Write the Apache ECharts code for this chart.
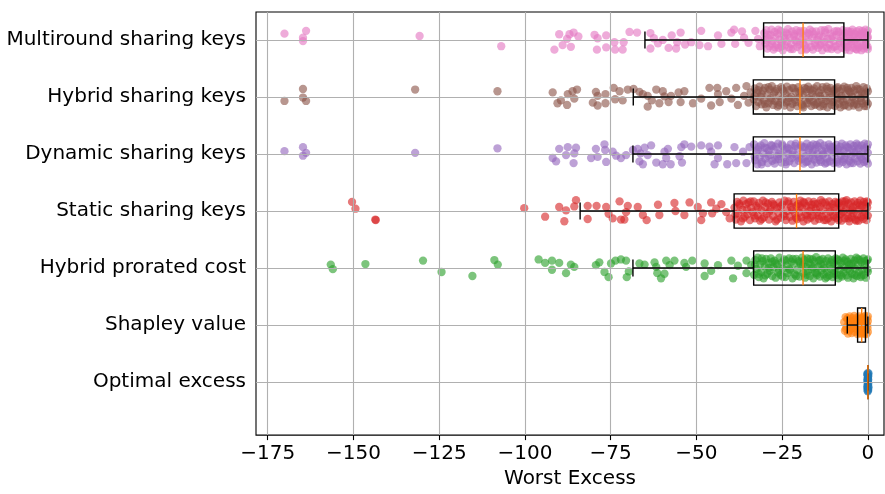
<!DOCTYPE html>
<html>
<head>
<meta charset="utf-8">
<script src="https://cdn.jsdelivr.net/npm/echarts@6/dist/echarts.min.js"></script>
<style>
  html, body { margin: 0; padding: 0; background: #ffffff; }
  #chart { width: 885px; height: 494px; }
</style>
</head>
<body>
<div id="chart"></div>
<script>
// Methods, bottom (position 1) to top (position 7)
const categories = [
  'Optimal excess',
  'Shapley value',
  'Hybrid prorated cost',
  'Static sharing keys',
  'Dynamic sharing keys',
  'Hybrid sharing keys',
  'Multiround sharing keys'
];
const colors = ['#1f77b4', '#ff7f0e', '#2ca02c', '#d62728', '#9467bd', '#8c564b', '#e377c2'];
const xTicks = [-175, -150, -125, -100, -75, -50, -25, 0];

// Box-plot summaries per method (same order as categories)
const whiskerLow = [0, -6.0, -68.5, -83.9, -68.5, -68.4, -65.0];
const quartile1  = [0, -3.0, -33.3, -39.0, -33.4, -33.4, -30.4];
const medians    = [0, -1.8, -18.9, -20.8, -19.8, -19.8, -18.9];
const quartile3  = [0, -0.7, -9.5, -8.5, -9.7, -9.7, -7.0];
const whiskerHigh = [0, 0, 0, 0, 0, 0, 0];

// Individual results: [worst excess, vertical jitter within the row]
const pointsOptimal = [
  [0,0.16],[0,0.12],[0,0.08],[0,0.04],[0,0.0],[0,-0.04],[0,-0.08],[0,-0.12],[0,-0.16],
  [-0.2,0.14],[-0.2,0.02],[-0.2,-0.1],[0.1,0.1],[0.1,-0.02],[0.1,-0.14],[-0.1,0.06],[-0.1,-0.06],
  [0.2,0.15],[0.2,-0.09],[-0.1,0.13],[-0.1,-0.15],[0.1,0.04]
];
const pointsShapley = [
  [-6.9,0.05],[-6.7,-0.1],[-6.5,0.14],[-6.2,-0.03],[-6.0,0.1],[-5.8,-0.15],[-5.6,0.02],[-5.3,0.15],
  [-5.1,-0.08],[-4.9,0.07],[-4.7,-0.14],[-4.5,0.12],[-4.2,-0.02],[-4.0,0.16],[-3.8,-0.12],[-3.6,0.04],
  [-3.4,-0.06],[-3.2,0.13],[-3.0,-0.16],[-2.9,0.08],[-2.7,-0.04],[-2.5,0.15],[-2.4,-0.11],[-2.2,0.01],
  [-2.0,0.11],[-1.9,-0.15],[-1.7,0.06],[-1.6,-0.07],[-1.4,0.14],[-1.3,-0.02],[-1.1,-0.13],[-1.0,0.09],
  [-0.8,0.16],[-0.7,-0.09],[-0.5,0.03],[-0.4,-0.16],[-0.3,0.12],[-0.1,-0.05],[0,0.07],[0,-0.12],
  [0,0.15],[-0.2,0.0],[-0.6,0.1],[-0.9,-0.16],[-1.5,0.02],[-2.1,-0.09],[-2.6,0.1],[-3.3,0.0],
  [-4.4,0.05],[-5.5,-0.1],
  [-6.4,-0.07],[-5.9,0.12],[-5.0,0.0],[-4.6,-0.05],[-3.9,0.08],[-3.1,0.04],[-2.3,-0.14],[-1.8,0.12],
  [-1.2,0.05],[-0.6,-0.13]
];
const pointsHybridProrated = [
  [-156.6,0.06],[-156.0,-0.02],[-146.5,0.07],[-129.7,0.13],[-124.3,-0.07],[-115.3,-0.14],[-108.9,0.14],[-107.9,0.06],
  [-96.0,0.15],[-94.1,0.09],[-92.1,0.13],[-92.1,-0.03],[-90.0,0.09],[-88.0,-0.09],[-86.6,0.06],[-85.6,0.02],
  [-79.3,0.05],[-78.3,0.10],[-76.8,-0.07],[-75.6,-0.16],[-74.9,0.08],[-73.6,0.13],[-72.0,0.15],[-70.5,0.13],
  [-69.7,-0.06],[-70.3,-0.16],[-66.6,0.08],[-65.1,0.06],[-62.2,0.10],[-61.7,0.02],[-61.4,-0.09],[-60.3,-0.18],
  [-58.8,0.13],[-57.8,0.05],[-56.4,0.13],[-59.3,-0.10],[-53.5,0.09],[-53.0,0.02],[-51.2,0.13],[-47.6,0.08],
  [-47.6,-0.14],[-45.7,-0.05],[-43.7,0.05],[-39.8,0.13],[-39.3,-0.18],[-37.9,0.04],[-35.4,0.13],[-35.4,-0.09],
  [-34.0,0.05],
  [-33.2,-0.12],[-32.8,0.14],[-32.5,-0.02],[-32.1,0.18],[-31.8,-0.16],[-31.4,0.07],[-31.1,-0.07],[-30.7,0.12],
  [-30.4,-0.18],[-30.0,0.03],[-29.7,0.16],[-29.3,-0.1],[-29.0,0.09],[-28.6,-0.05],[-28.3,0.17],[-27.9,-0.14],
  [-27.6,0.01],[-27.2,0.13],[-26.9,-0.17],[-26.5,0.06],[-26.2,-0.08],[-25.8,0.18],[-25.5,-0.12],[-25.1,0.1],
  [-24.8,-0.01],[-24.4,0.15],[-24.1,-0.16],[-23.7,0.04],[-23.4,-0.09],[-23.0,0.17],[-22.7,-0.04],[-22.3,0.11],
  [-22.0,-0.18],[-21.6,0.08],[-21.3,-0.11],[-20.9,0.16],[-20.6,-0.03],[-20.2,0.12],[-19.9,-0.15],[-19.5,0.05],
  [-19.2,0.18],
  [-18.8,-0.09],[-18.5,0.14],[-18.3,-0.17],[-18.0,0.02],[-17.7,0.17],[-17.5,-0.06],[-17.2,0.1],[-16.9,-0.14],
  [-16.7,0.06],[-16.4,-0.02],[-16.1,0.15],[-15.9,-0.18],[-15.6,0.11],[-15.3,-0.08],[-15.1,0.19],[-14.8,-0.12],
  [-14.5,0.03],[-14.3,0.13],[-14.0,-0.15],[-13.7,0.07],[-13.5,-0.04],[-13.2,0.16],[-12.9,-0.11],[-12.7,0.0],
  [-12.4,-0.18],[-12.1,0.12],[-11.9,-0.07],[-11.6,0.17],[-11.3,-0.13],[-11.1,0.05],[-10.8,-0.02],[-10.5,0.14],
  [-10.3,-0.16],[-10.0,0.09],[-9.7,-0.05],
  [-9.4,0.17],[-9.1,-0.12],[-8.9,0.04],[-8.6,-0.18],[-8.4,0.13],[-8.1,-0.03],[-7.8,0.09],[-7.6,-0.15],
  [-7.3,0.18],[-7.1,-0.08],[-6.8,0.02],[-6.5,0.15],[-6.3,-0.13],[-6.0,0.11],[-5.8,-0.17],[-5.5,0.06],
  [-5.2,-0.05],[-5.0,0.16],[-4.7,-0.1],[-4.5,0.08],[-4.2,-0.18],[-3.9,0.13],[-3.7,-0.01],[-3.4,0.18],
  [-3.2,-0.14],[-2.9,0.05],[-2.6,-0.07],[-2.4,0.14],[-2.1,-0.16],[-1.9,0.1],[-1.6,-0.03],[-1.3,0.17],
  [-1.1,-0.12],[-0.8,0.07],[-0.6,-0.17],[-0.3,0.13],[0,-0.06],[0,0.15],
  [-32.9,0.06],[-31.9,-0.1],[-30.9,0.17],[-29.9,-0.13],[-28.9,0.0],[-27.9,0.11],[-26.9,0.08],[-25.9,-0.04],
  [-24.9,-0.15],[-23.9,0.13],[-22.9,-0.02],[-21.9,0.16],[-20.9,-0.14],[-19.9,0.1],[-18.9,0.05],[-17.9,-0.12],
  [-16.9,0.16],[-15.9,0.01],[-14.9,-0.09],[-13.9,0.14],[-12.9,0.06],[-11.9,-0.16],[-10.9,0.1],[-9.9,-0.1],
  [-8.9,0.15],[-7.9,-0.12],[-6.9,0.12],[-5.9,-0.02],[-4.9,0.07],[-3.9,-0.12],[-2.9,0.16],[-1.9,-0.13],
  [-0.9,0.12],[-0.2,-0.02]
];
const pointsStatic = [
  [-150.4,0.16],[-149.4,0.04],[-143.5,-0.16],[-143.6,-0.15],
  [-100.2,0.05],[-94.1,-0.10],[-90.0,0.07],[-88.5,-0.18],[-88.0,0.01],[-85.1,0.19],[-85.6,0.08],[-81.7,0.09],
  [-81.7,-0.14],[-79.1,0.09],[-76.3,0.07],[-75.6,-0.05],[-74.4,-0.13],[-72.4,0.17],[-72.0,-0.15],[-70.0,0.09],
  [-70.5,-0.02],[-71.0,-0.15],[-67.1,0.07],[-65.6,-0.07],[-64.5,-0.16],[-61.2,0.11],[-60.8,-0.07],[-56.4,0.14],
  [-56.1,0.0],[-53.5,-0.07],[-52.0,0.15],[-49.6,0.07],[-48.6,-0.16],[-48.1,-0.04],[-45.7,0.15],[-45.4,-0.04],
  [-44.2,0.04],[-42.7,0.12],[-41.3,-0.02],[-40.3,-0.13],
  [-38.9,0.06],[-38.5,-0.15],[-38.1,0.16],[-37.8,-0.04],[-37.4,0.1],[-37.0,-0.18],[-36.6,0.02],[-36.3,0.18],
  [-35.9,-0.1],[-35.5,0.12],[-35.1,-0.06],[-34.8,0.15],[-34.4,-0.16],[-34.0,0.05],[-33.6,-0.02],[-33.3,0.17],
  [-32.9,-0.13],[-32.5,0.09],[-32.1,-0.08],[-31.8,0.14],[-31.4,-0.17],[-31.0,0.01],[-30.6,0.18],[-30.3,-0.11],
  [-29.9,0.07],[-29.5,-0.05],[-29.1,0.13],[-28.8,-0.15],[-28.4,0.03],[-28.0,0.16],[-27.6,-0.09],[-27.3,0.1],
  [-26.9,-0.18],[-26.5,0.05],[-26.1,-0.03],[-25.8,0.15],[-25.4,-0.12],[-25.0,0.11],[-24.6,-0.06],[-24.3,0.18],
  [-23.9,-0.16],[-23.5,0.0],[-23.1,0.13],[-22.8,-0.1],[-22.4,0.07],[-22.0,-0.17],[-21.6,0.16],[-21.3,-0.04],
  [-20.9,0.09],
  [-20.6,-0.14],[-20.3,0.12],[-20.0,-0.03],[-19.7,0.18],[-19.4,-0.11],[-19.1,0.05],[-18.8,-0.18],[-18.5,0.14],
  [-18.2,-0.06],[-17.9,0.09],[-17.6,-0.15],[-17.3,0.17],[-17.0,0.0],[-16.7,-0.12],[-16.4,0.11],[-16.1,-0.08],
  [-15.8,0.16],[-15.5,-0.17],[-15.2,0.04],[-14.9,-0.03],[-14.6,0.13],[-14.3,-0.14],[-14.0,0.07],[-13.7,0.19],
  [-13.4,-0.1],[-13.1,0.02],[-12.8,-0.16],[-12.5,0.15],[-12.2,-0.05],[-11.9,0.1],[-11.6,-0.13],[-11.3,0.17],
  [-11.0,-0.01],[-10.7,-0.18],[-10.4,0.12],[-10.1,-0.07],[-9.8,0.06],[-9.5,0.16],[-9.2,-0.12],[-8.9,0.03],
  [-8.6,-0.16],
  [-8.4,0.14],[-8.2,-0.06],[-7.9,0.08],[-7.7,-0.17],[-7.4,0.17],[-7.2,-0.02],[-6.9,0.11],[-6.7,-0.13],
  [-6.4,0.04],[-6.2,0.19],[-5.9,-0.09],[-5.7,0.13],[-5.4,-0.18],[-5.2,0.01],[-4.9,0.15],[-4.7,-0.11],
  [-4.4,0.07],[-4.2,-0.04],[-3.9,0.17],[-3.7,-0.15],[-3.4,0.1],[-3.2,-0.07],[-2.9,0.14],[-2.7,-0.17],
  [-2.4,0.03],[-2.2,0.18],[-1.9,-0.1],[-1.7,0.09],[-1.4,-0.14],[-1.2,0.16],[-0.9,-0.02],[-0.7,0.12],
  [-0.4,-0.16],[-0.2,0.06],[0,-0.08],[0,0.15],
  [-38.6,-0.06],[-37.5,0.13],[-36.4,-0.13],[-35.3,0.03],[-34.2,0.17],[-33.1,-0.08],[-32.0,0.06],[-30.9,-0.14],
  [-29.8,0.15],[-28.7,-0.01],[-27.6,0.12],[-26.5,-0.15],[-25.4,0.08],[-24.3,-0.09],[-23.2,0.17],[-22.1,0.02],
  [-21.0,-0.12],[-19.9,0.08],[-18.8,0.16],[-17.7,-0.07],[-16.6,0.05],[-15.5,0.12],[-14.4,-0.08],[-13.3,0.15],
  [-12.2,-0.16],[-11.1,0.07],[-10.0,-0.1],[-8.9,0.14],[-7.8,-0.04],[-6.7,0.17],[-5.6,-0.13],[-4.5,0.02],
  [-3.4,-0.17],[-2.3,0.1],[-1.2,-0.07],[-0.3,0.17]
];
const pointsDynamic = [
  [-170.1,0.05],[-164.7,0.12],[-163.8,0.02],[-164.7,-0.03],[-132.0,0.02],[-108.0,0.10],
  [-91.9,-0.07],[-90.0,0.09],[-87.5,0.12],[-85.1,0.11],[-88.0,-0.02],[-85.6,0.01],[-90.9,-0.13],[-85.8,-0.16],
  [-79.3,0.09],[-76.8,0.17],[-76.6,0.07],[-80.7,-0.07],[-78.8,-0.05],[-76.3,-0.14],[-74.4,0.04],[-73.4,-0.03],
  [-72.0,-0.07],[-70.5,-0.02],[-68.5,0.07],[-67.1,0.09],[-65.1,0.11],[-63.2,0.15],[-66.3,0.01],[-64.2,-0.02],
  [-66.6,-0.13],[-65.6,-0.18],[-61.7,-0.15],[-59.3,0.04],[-58.3,0.09],[-58.8,-0.07],[-59.8,-0.18],[-57.5,-0.18],
  [-54.4,0.12],[-53.5,0.17],[-51.5,0.13],[-48.6,0.15],[-54.9,-0.04],[-54.2,-0.15],[-46.2,0.13],[-43.7,0.15],
  [-45.7,0.04],[-43.7,-0.07],[-44.7,-0.18],[-41.0,-0.18],[-38.9,0.12],[-38.4,-0.16],[-36.4,0.04],[-35.4,-0.16],
  [-34.5,0.12],
  [-33.2,0.17],[-32.9,-0.11],[-32.5,0.04],[-32.2,-0.18],[-31.9,0.12],[-31.5,-0.05],[-31.2,0.15],[-30.9,-0.14],
  [-30.5,0.01],[-30.2,0.19],[-29.9,-0.08],[-29.5,0.1],[-29.2,-0.16],[-28.9,0.06],[-28.5,-0.02],[-28.2,0.16],
  [-27.9,-0.12],[-27.5,0.09],[-27.2,-0.17],[-26.9,0.13],[-26.5,-0.04],[-26.2,0.18],[-25.9,-0.09],[-25.5,0.03],
  [-25.2,-0.15],[-24.9,0.14],[-24.5,-0.06],[-24.2,0.08],[-23.9,-0.18],[-23.5,0.11],[-23.2,0.0],[-22.9,-0.13],
  [-22.5,0.17],[-22.2,-0.07],[-21.9,0.05],[-21.5,-0.16],[-21.2,0.14],[-20.9,-0.03],[-20.5,0.1],[-20.2,-0.12],
  [-19.5,0.15],[-19.2,-0.09],[-18.9,0.02],[-18.7,-0.17],[-18.4,0.12],[-18.1,-0.04],[-17.8,0.18],[-17.5,-0.13],
  [-17.3,0.07],[-17.0,-0.07],[-16.7,0.14],[-16.4,-0.18],[-16.1,0.03],[-15.9,0.17],[-15.6,-0.1],[-15.3,0.09],
  [-15.0,-0.15],[-14.7,0.0],[-14.5,0.13],[-14.2,-0.06],[-13.9,0.19],[-13.6,-0.14],[-13.3,0.06],[-13.1,-0.02],
  [-12.8,0.15],[-12.5,-0.17],[-12.2,0.1],[-11.9,-0.08],[-11.7,0.04],[-11.4,0.17],[-11.1,-0.13],[-10.8,0.08],
  [-10.5,-0.05],[-10.3,0.12],[-10.0,-0.16],
  [-9.5,0.03],[-9.2,0.16],[-8.9,-0.1],[-8.7,0.09],[-8.4,-0.17],[-8.1,0.13],[-7.9,-0.03],[-7.6,0.18],
  [-7.3,-0.14],[-7.0,0.06],[-6.8,-0.07],[-6.5,0.15],[-6.2,-0.18],[-5.9,0.01],[-5.7,0.11],[-5.4,-0.12],
  [-5.1,0.17],[-4.9,-0.04],[-4.6,0.08],[-4.3,-0.16],[-4.1,0.14],[-3.8,-0.08],[-3.5,0.04],[-3.3,0.18],
  [-3.0,-0.13],[-2.7,0.1],[-2.5,-0.02],[-2.2,-0.17],[-1.9,0.15],[-1.7,-0.09],[-1.4,0.07],[-1.1,-0.14],
  [-0.9,0.18],[-0.6,-0.04],[-0.3,0.12],[0,-0.17],[0,0.02],[0,0.17],
  [-33.0,-0.05],[-32.0,0.08],[-31.0,-0.18],[-30.0,0.11],[-29.0,-0.03],[-28.0,0.14],[-27.0,-0.1],[-26.0,0.0],
  [-25.0,0.17],[-24.0,-0.14],[-23.0,0.09],[-22.0,-0.01],[-21.0,0.18],[-20.0,-0.07],[-19.0,0.12],[-18.0,-0.14],
  [-17.0,0.1],[-16.0,-0.03],[-15.0,0.16],[-14.0,-0.11],[-13.0,0.01],[-12.0,-0.15],[-11.0,0.13],[-10.0,0.05],
  [-9.0,-0.14],[-8.0,0.06],[-7.0,-0.1],[-6.0,0.12],[-5.0,-0.16],[-4.0,0.03],[-3.0,0.15],[-2.0,-0.05],
  [-1.0,0.1],[-0.4,-0.12]
];
const pointsHybridSharing = [
  [-170.1,-0.07],[-164.7,0.14],[-164.7,-0.01],[-163.8,-0.07],[-132.0,0.13],[-108.0,0.10],
  [-91.9,0.08],[-89.5,-0.06],[-87.5,0.05],[-86.1,0.10],[-84.8,0.13],[-87.7,-0.14],[-90.5,-0.11],[-85.6,-0.03],
  [-79.3,0.09],[-78.8,0.02],[-76.5,0.05],[-80.2,-0.10],[-76.5,-0.11],[-78.8,-0.15],[-74.1,0.16],[-72.4,0.10],
  [-73.7,-0.04],[-71.5,-0.06],[-70.0,0.13],[-68.3,0.14],[-66.6,0.09],[-65.6,0.05],[-64.2,0.02],[-63.0,-0.06],
  [-64.2,-0.17],[-61.7,0.13],[-59.8,0.10],[-59.3,0.01],[-60.8,-0.11],[-58.1,-0.09],[-57.4,0.02],[-55.2,0.08],
  [-54.6,-0.09],[-53.5,0.10],[-51.0,-0.11],[-48.6,-0.03],[-46.2,0.16],[-43.9,0.16],[-45.7,-0.15],[-43.7,0.05],
  [-43.2,-0.09],[-41.3,0.10],[-39.8,-0.03],[-38.4,0.16],[-37.9,-0.14],[-36.1,0.02],[-35.4,0.19],[-34.8,-0.10],
  [-34.2,0.08],
  [-33.3,-0.04],[-33.0,0.15],[-32.6,-0.16],[-32.3,0.07],[-32.0,-0.09],[-31.6,0.18],[-31.3,0.0],[-31.0,-0.13],
  [-30.6,0.11],[-30.3,-0.06],[-30.0,0.16],[-29.6,-0.18],[-29.3,0.04],[-29.0,-0.11],[-28.6,0.13],[-28.3,-0.02],
  [-28.0,0.19],[-27.6,-0.14],[-27.3,0.08],[-27.0,-0.07],[-26.6,0.14],[-26.3,-0.17],[-26.0,0.02],[-25.6,-0.1],
  [-25.3,0.17],[-25.0,-0.04],[-24.6,0.1],[-24.3,-0.15],[-24.0,0.05],[-23.6,0.18],[-23.3,-0.08],[-23.0,0.12],
  [-22.6,-0.18],[-22.3,0.0],[-22.0,-0.12],[-21.6,0.15],[-21.3,-0.05],[-21.0,0.09],[-20.6,-0.16],[-20.3,0.17],
  [-20.0,-0.01],
  [-19.6,0.11],[-19.3,-0.13],[-19.0,0.04],[-18.8,-0.18],[-18.5,0.16],[-18.2,-0.06],[-17.9,0.09],[-17.6,-0.11],
  [-17.4,0.18],[-17.1,-0.02],[-16.8,0.13],[-16.5,-0.16],[-16.2,0.06],[-16.0,-0.08],[-15.7,0.15],[-15.4,-0.14],
  [-15.1,0.01],[-14.8,0.19],[-14.6,-0.1],[-14.3,0.08],[-14.0,-0.17],[-13.7,0.12],[-13.4,-0.04],[-13.2,0.17],
  [-12.9,-0.12],[-12.6,0.03],[-12.3,-0.07],[-12.0,0.14],[-11.8,-0.18],[-11.5,0.1],[-11.2,-0.01],[-10.9,0.16],
  [-10.6,-0.14],[-10.4,0.05],[-10.1,-0.09],[-9.8,0.13],
  [-9.6,-0.16],[-9.3,0.07],[-9.0,-0.03],[-8.8,0.17],[-8.5,-0.12],[-8.2,0.1],[-8.0,-0.18],[-7.7,0.02],
  [-7.4,0.14],[-7.2,-0.08],[-6.9,0.18],[-6.6,-0.14],[-6.4,0.05],[-6.1,-0.05],[-5.8,0.12],[-5.6,-0.17],
  [-5.3,0.09],[-5.0,-0.1],[-4.8,0.16],[-4.5,0.0],[-4.2,-0.15],[-4.0,0.11],[-3.7,-0.06],[-3.4,0.19],
  [-3.2,-0.13],[-2.9,0.04],[-2.6,-0.18],[-2.4,0.13],[-2.1,-0.02],[-1.8,0.08],[-1.6,-0.11],[-1.3,0.17],
  [-1.0,-0.16],[-0.8,0.06],[-0.5,-0.07],[-0.3,0.15],[0,-0.12],[0,0.1],
  [-33.0,0.02],[-32.0,0.12],[-31.0,0.05],[-30.0,-0.12],[-29.0,0.17],[-28.0,-0.06],[-27.0,0.1],[-26.0,-0.14],
  [-25.0,0.14],[-24.0,-0.1],[-23.0,-0.02],[-22.0,0.16],[-21.0,-0.09],[-20.0,0.07],[-19.0,-0.15],[-18.0,0.14],
  [-17.0,-0.05],[-16.0,0.11],[-15.0,-0.12],[-14.0,0.02],[-13.0,-0.16],[-12.0,0.18],[-11.0,-0.06],[-10.0,0.1],
  [-9.0,0.15],[-8.0,-0.04],[-7.0,-0.15],[-6.0,0.16],[-5.0,0.08],[-4.0,-0.11],[-3.0,0.14],[-2.0,-0.07],
  [-1.0,0.05],[-0.4,-0.16]
];
const pointsMultiround = [
  [-170.1,0.11],[-163.8,0.16],[-164.7,0.04],[-164.7,-0.02],[-130.7,0.07],[-106.9,-0.11],
  [-90.0,0.10],[-91.4,-0.17],[-89.0,-0.09],[-87.7,0.02],[-87.0,0.10],[-85.8,0.13],[-84.4,0.06],[-86.6,-0.12],
  [-79.7,0.09],[-78.8,0.03],[-76.3,0.08],[-79.0,-0.17],[-76.3,-0.13],[-73.9,-0.04],[-73.7,-0.17],[-71.2,-0.04],
  [-71.5,-0.17],[-69.5,0.14],[-67.3,0.13],[-63.4,0.12],[-62.4,0.03],[-63.4,-0.15],[-61.2,-0.06],[-59.8,0.0],
  [-57.2,0.08],[-54.6,0.13],[-55.6,-0.04],[-58.1,-0.14],[-55.9,-0.15],[-53.3,-0.08],[-51.5,-0.04],[-48.6,0.16],
  [-49.1,-0.09],[-46.6,-0.11],[-43.7,0.08],[-42.7,-0.07],[-39.8,0.13],[-39.0,0.18],[-36.7,0.15],[-36.1,0.04],
  [-38.7,-0.07],[-34.8,-0.05],[-32.8,0.16],[-32.0,0.02],[-31.5,-0.11],
  [-30.2,0.12],[-29.9,-0.06],[-29.6,0.17],[-29.3,-0.15],[-29.0,0.03],[-28.7,-0.11],[-28.4,0.09],[-28.1,0.18],
  [-27.8,-0.02],[-27.5,-0.17],[-27.2,0.14],[-26.9,0.05],[-26.6,-0.09],[-26.3,0.11],[-26.0,-0.14],[-25.7,0.01],
  [-25.4,0.16],[-25.1,-0.05],[-24.8,-0.18],[-24.5,0.08],[-24.2,-0.1],[-23.9,0.13],[-23.6,-0.03],[-23.3,0.19],
  [-23.0,-0.13],[-22.7,0.04],[-22.4,-0.07],[-22.1,0.15],[-21.8,-0.16],[-21.5,0.1],[-21.2,-0.01],[-20.9,0.17],
  [-20.6,-0.12],[-20.3,0.06],[-20.0,-0.08],[-19.7,0.13],[-19.4,-0.18],[-19.1,0.02],
  [-18.7,0.16],[-18.4,-0.1],[-18.1,0.07],[-17.8,-0.15],[-17.5,0.12],[-17.2,-0.03],[-16.9,0.18],[-16.6,-0.12],
  [-16.3,0.04],[-16.0,-0.17],[-15.7,0.1],[-15.4,-0.06],[-15.1,0.15],[-14.8,0.0],[-14.5,-0.14],[-14.2,0.08],
  [-13.9,-0.09],[-13.6,0.17],[-13.3,-0.18],[-13.0,0.05],[-12.7,-0.04],[-12.4,0.13],[-12.1,-0.13],[-11.8,0.02],
  [-11.5,0.19],[-11.2,-0.08],[-10.9,0.11],[-10.6,-0.16],[-10.3,0.06],[-10.0,-0.02],[-9.7,0.15],[-9.4,-0.11],
  [-9.1,0.09],[-8.8,-0.17],[-8.5,0.14],[-8.2,-0.05],[-7.9,0.03],[-7.6,-0.14],[-7.3,0.17],
  [-6.9,-0.08],[-6.7,0.12],[-6.5,-0.17],[-6.3,0.05],[-6.1,-0.03],[-5.9,0.16],[-5.7,-0.12],[-5.5,0.09],
  [-5.3,-0.18],[-5.1,0.01],[-4.9,0.14],[-4.7,-0.07],[-4.5,0.18],[-4.3,-0.14],[-4.1,0.06],[-3.9,-0.02],
  [-3.7,0.11],[-3.5,-0.16],[-3.3,0.15],[-3.1,-0.09],[-2.9,0.03],[-2.7,-0.13],[-2.5,0.17],[-2.3,-0.05],
  [-2.1,0.1],[-1.9,-0.18],[-1.7,0.07],[-1.5,-0.1],[-1.3,0.13],[-1.1,-0.15],[-0.9,0.02],[-0.7,0.18],
  [-0.5,-0.07],[-0.3,0.12],[-0.1,-0.12],[0,0.05],[0,-0.16],[0,0.16],
  [-30.0,0.0],[-29.2,0.09],[-28.0,-0.07],[-27.0,-0.13],[-26.1,0.18],[-25.2,-0.11],[-24.3,0.03],[-23.4,0.1],
  [-22.5,-0.16],[-21.6,0.07],[-20.7,-0.04],[-19.8,0.16],[-18.9,-0.05],[-18.0,-0.17],[-17.1,0.1],[-16.2,0.15],
  [-15.3,-0.1],[-14.4,0.05],[-13.5,-0.06],[-12.6,0.17],[-11.7,-0.15],[-10.8,0.02],[-9.9,-0.12],[-9.0,0.16],
  [-8.1,-0.02],[-7.2,0.07],[-6.4,-0.12],[-5.6,0.14],[-4.8,-0.03],[-4.0,0.1],[-3.2,-0.17],[-2.4,0.08],
  [-1.6,0.16],[-0.8,-0.1],[-0.2,0.03]
];

const pointSets = [
  pointsOptimal, pointsShapley, pointsHybridProrated, pointsStatic,
  pointsDynamic, pointsHybridSharing, pointsMultiround
];

const FONT = 'DejaVu Sans';
const FONT_SIZE = 20;
const BOX_HALF = 0.3;   // half the box height, in row units
const CAP_HALF = 0.15;  // half the whisker-cap height

const minusFmt = v => (v < 0 ? '\u2212' + Math.abs(v) : String(v));

const scatterSeries = pointSets.map((pts, i) => ({
  type: 'scatter',
  name: categories[i],
  z: 2,
  symbol: 'circle',
  symbolSize: 8.3,
  silent: true,
  itemStyle: { color: colors[i], opacity: 0.62 },
  data: pts.map(p => [p[0], i + 1 + p[1]])
}));

const rowPositions = categories.map((_, i) => i + 1);

// Grid lines sit above the points and below the boxes
const gridSeries = {
  type: 'line',
  data: [],
  silent: true,
  markLine: {
    silent: true,
    z: 3,
    symbol: ['none', 'none'],
    label: { show: false },
    emphasis: { disabled: true },
    lineStyle: { color: '#b0b0b0', width: 1.1, type: 'solid', opacity: 1 },
    data: [
      ...xTicks.map(v => ({ xAxis: v })),
      ...rowPositions.map(v => ({ yAxis: v }))
    ]
  }
};

const boxData = categories.map((_, i) => [
  i + 1, whiskerLow[i], quartile1[i], medians[i], quartile3[i], whiskerHigh[i]
]);

const boxSeries = {
  type: 'custom',
  z: 6,
  silent: true,
  encode: { x: [1, 2, 3, 4, 5], y: 0 },
  data: boxData,
  renderItem(params, api) {
    const pos = api.value(0);
    const xl = api.coord([api.value(1), pos])[0];
    const xq1 = api.coord([api.value(2), pos])[0];
    const xm = api.coord([api.value(3), pos])[0];
    const xq3 = api.coord([api.value(4), pos])[0];
    const xh = api.coord([api.value(5), pos])[0];
    const yc = api.coord([0, pos])[1];
    const yTop = api.coord([0, pos + BOX_HALF])[1];
    const yBot = api.coord([0, pos - BOX_HALF])[1];
    const cTop = api.coord([0, pos + CAP_HALF])[1];
    const cBot = api.coord([0, pos - CAP_HALF])[1];
    const black = { stroke: '#000', lineWidth: 1.4, fill: null };
    return {
      type: 'group',
      children: [
        { type: 'line', shape: { x1: xl, y1: yc, x2: xq1, y2: yc }, style: black },
        { type: 'line', shape: { x1: xq3, y1: yc, x2: xh, y2: yc }, style: black },
        { type: 'line', shape: { x1: xl, y1: cTop, x2: xl, y2: cBot }, style: black },
        { type: 'line', shape: { x1: xh, y1: cTop, x2: xh, y2: cBot }, style: black },
        { type: 'rect', shape: { x: xq1, y: yTop, width: xq3 - xq1, height: yBot - yTop }, style: black },
        { type: 'line', shape: { x1: xm, y1: yTop, x2: xm, y2: yBot }, style: { stroke: '#ff7f0e', lineWidth: 1.4 } }
      ]
    };
  }
};

const chart = echarts.init(document.getElementById('chart'), null, { renderer: 'canvas' });
chart.setOption({
  animation: false,
  backgroundColor: '#ffffff',
  grid: {
    left: 256, right: 1, top: 12, bottom: 53,
    show: true, borderColor: '#000', borderWidth: 1.1, backgroundColor: 'transparent'
  },
  xAxis: {
    type: 'value',
    min: -178.4,
    max: 4.7,
    name: 'Worst Excess',
    nameLocation: 'middle',
    nameGap: 33,
    nameTextStyle: { fontFamily: FONT, fontSize: FONT_SIZE, color: '#000' },
    axisLine: { show: false },
    splitLine: { show: false },
    axisTick: { show: true, customValues: xTicks, length: 5, lineStyle: { color: '#000', width: 1.1 } },
    axisLabel: {
      customValues: xTicks, margin: 9, formatter: minusFmt,
      fontFamily: FONT, fontSize: FONT_SIZE, color: '#000'
    }
  },
  yAxis: {
    type: 'value',
    min: 0.07,
    max: 7.49,
    axisLine: { show: false },
    splitLine: { show: false },
    axisTick: { show: true, customValues: rowPositions, length: 5, lineStyle: { color: '#000', width: 1.1 } },
    axisLabel: {
      customValues: rowPositions, margin: 10,
      formatter: v => categories[Math.round(v) - 1] || '',
      fontFamily: FONT, fontSize: FONT_SIZE, color: '#000'
    }
  },
  series: [...scatterSeries, gridSeries, boxSeries]
});
</script>
</body>
</html>
